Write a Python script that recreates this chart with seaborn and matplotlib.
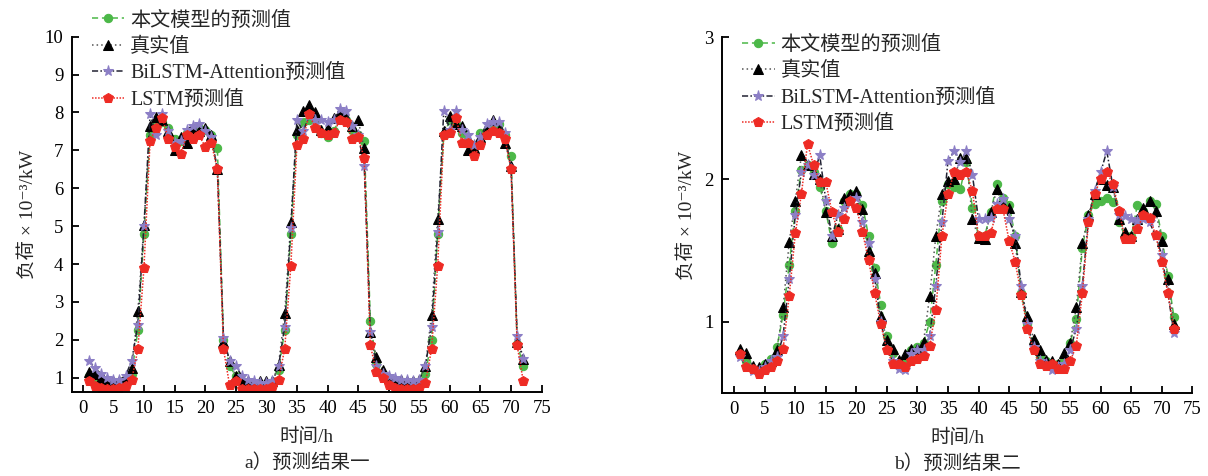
import numpy as np
import pandas as pd
import matplotlib
matplotlib.use("Agg")
import matplotlib.pyplot as plt
import seaborn as sns

hours = list(range(1, 73))

# ---- chart a) 预测结果一 ----
a_model = [1.05, 1.0, 0.92, 0.88, 0.85, 0.88, 0.95, 1.1, 2.25, 4.8, 7.4, 7.7, 7.75, 7.6, 7.3, 7.25, 7.45, 7.5, 7.6, 7.55, 7.4, 7.05, 2.0, 1.3,
           1.05, 0.9, 0.85, 0.82, 0.8, 0.82, 0.85, 1.2, 2.25, 4.8, 7.4, 7.75, 7.8, 7.8, 7.45, 7.35, 7.5, 7.85, 7.8, 7.55, 7.4, 7.25, 2.5, 1.35,
           1.1, 0.9, 0.85, 0.83, 0.8, 0.8, 0.85, 1.1, 2.0, 4.8, 7.4, 7.8, 7.7, 7.45, 7.2, 7.15, 7.45, 7.5, 7.65, 7.7, 7.4, 6.85, 1.9, 1.3]
a_true = [1.15, 1.1, 1.0, 0.95, 0.9, 0.92, 1.0, 1.25, 2.75, 5.03, 7.65, 7.87, 7.8, 7.5, 7.0, 7.35, 7.2, 7.6, 7.5, 7.6, 7.4, 6.5, 1.95, 1.45,
          1.05, 0.95, 0.9, 0.85, 0.9, 0.9, 0.9, 1.34, 2.7, 5.1, 7.55, 8.05, 8.2, 8.0, 7.55, 7.6, 7.85, 8.0, 7.85, 7.65, 7.8, 7.05, 2.2, 1.55,
          1.2, 1.0, 0.95, 0.95, 0.9, 0.9, 0.95, 1.3, 2.66, 5.2, 7.5, 7.9, 7.7, 7.65, 7.0, 7.05, 7.35, 7.55, 7.8, 7.55, 7.2, 6.6, 1.95, 1.5]
a_bilstm = [1.45, 1.25, 1.1, 1.0, 0.95, 0.95, 1.05, 1.45, 2.4, 5.0, 7.95, 7.4, 7.95, 7.5, 7.2, 7.25, 7.55, 7.65, 7.7, 7.5, 7.35, 6.5, 2.05, 1.45,
            1.3, 1.05, 0.95, 0.9, 0.85, 0.85, 0.9, 1.3, 2.35, 4.95, 7.8, 7.5, 7.9, 7.8, 7.8, 7.75, 7.8, 8.1, 8.05, 7.65, 7.4, 6.6, 2.2, 1.3,
            1.1, 1.05, 1.0, 0.95, 0.95, 0.9, 0.95, 1.3, 2.35, 4.85, 8.05, 7.55, 8.05, 7.55, 7.4, 7.15, 7.35, 7.7, 7.75, 7.75, 7.45, 6.5, 2.1, 1.5]
a_lstm = [0.9, 0.78, 0.72, 0.7, 0.7, 0.72, 0.78, 0.94, 1.75, 3.9, 7.25, 7.6, 7.85, 7.3, 7.1, 6.9, 7.4, 7.3, 7.4, 7.1, 7.2, 6.5, 1.75, 0.8,
          0.9, 0.7, 0.7, 0.7, 0.7, 0.7, 0.75, 0.95, 1.76, 3.94, 7.14, 7.3, 7.95, 7.6, 7.45, 7.4, 7.45, 7.8, 7.75, 7.3, 7.35, 6.8, 1.85, 1.15,
          1.0, 0.8, 0.72, 0.7, 0.7, 0.7, 0.72, 0.85, 1.75, 3.95, 7.4, 7.45, 7.85, 7.2, 7.2, 6.85, 7.15, 7.4, 7.5, 7.45, 7.3, 6.5, 1.85, 0.9]

# ---- chart b) 预测结果二 ----
b_model = [0.77, 0.72, 0.67, 0.66, 0.7, 0.74, 0.82, 1.05, 1.4, 1.78, 2.07, 2.1, 2.05, 1.95, 1.78, 1.55, 1.65, 1.85, 1.9, 1.9, 1.82, 1.6, 1.38, 1.12,
           0.9, 0.78, 0.7, 0.72, 0.8, 0.82, 0.85, 1.0, 1.4, 1.85, 1.97, 1.95, 1.93, 2.12, 1.8, 1.6, 1.6, 1.77, 1.97, 1.87, 1.82, 1.6, 1.2, 0.98,
           0.85, 0.75, 0.72, 0.7, 0.7, 0.74, 0.85, 1.02, 1.52, 1.75, 1.83, 1.85, 1.87, 1.84, 1.7, 1.6, 1.6, 1.82, 1.78, 1.85, 1.83, 1.6, 1.32, 1.03]
b_true = [0.81, 0.78, 0.69, 0.68, 0.7, 0.72, 0.8, 1.1, 1.56, 1.85, 2.17, 2.1, 2.04, 2.0, 1.77, 1.6, 1.65, 1.87, 1.9, 1.92, 1.79, 1.5, 1.34, 1.04,
          0.87, 0.81, 0.73, 0.77, 0.81, 0.81, 0.86, 1.18, 1.6, 1.9, 1.99, 2.0, 2.15, 2.15, 1.72, 1.59, 1.58, 1.77, 1.93, 1.82, 1.8, 1.55, 1.21, 1.04,
          0.88, 0.8, 0.73, 0.72, 0.7, 0.78, 0.85, 1.1, 1.55, 1.75, 1.9, 2.0, 1.96, 1.95, 1.72, 1.63, 1.6, 1.72, 1.8, 1.85, 1.78, 1.57, 1.3, 0.98]
b_bilstm = [0.75, 0.68, 0.65, 0.65, 0.68, 0.72, 0.75, 0.9, 1.3, 1.75, 2.05, 2.1, 2.03, 2.17, 1.85, 1.6, 1.75, 1.8, 1.85, 1.87, 1.7, 1.55, 1.3, 1.0,
            0.8, 0.72, 0.67, 0.66, 0.77, 0.8, 0.8, 0.9, 1.25, 1.7, 2.13, 2.2, 2.12, 2.2, 2.03, 1.72, 1.72, 1.73, 1.83, 1.86, 1.72, 1.6, 1.25, 0.98,
            0.82, 0.72, 0.7, 0.66, 0.68, 0.7, 0.8, 0.95, 1.25, 1.72, 1.92, 2.05, 2.2, 1.95, 1.75, 1.74, 1.72, 1.71, 1.72, 1.7, 1.6, 1.47, 1.2, 0.92]
b_lstm = [0.77, 0.68, 0.67, 0.63, 0.66, 0.68, 0.72, 0.81, 1.18, 1.62, 1.9, 2.25, 2.1, 1.98, 1.98, 1.77, 1.63, 1.72, 1.85, 1.8, 1.63, 1.43, 1.2, 0.98,
          0.8, 0.7, 0.7, 0.68, 0.72, 0.74, 0.76, 0.83, 1.08, 1.6, 1.9, 2.05, 2.03, 2.05, 1.92, 1.6, 1.6, 1.62, 1.79, 1.79, 1.57, 1.42, 1.19, 0.95,
          0.8, 0.7, 0.69, 0.7, 0.67, 0.67, 0.72, 0.83, 1.2, 1.7, 1.9, 2.0, 2.05, 1.97, 1.78, 1.58, 1.58, 1.65, 1.75, 1.73, 1.61, 1.42, 1.2, 0.95]

series_names = ["本文模型的预测值", "真实值", "BiLSTM-Attention预测值", "LSTM预测值"]
x_ticks = list(range(0, 80, 5))
a_yticks = list(range(1, 11))
b_yticks = [1, 2, 3]
x_label = "时间/h"
y_label = "负荷 × 10⁻³/kW"
captions = ["a）预测结果一", "b）预测结果二"]

sns.set_theme(style="white")
FONT = ["Liberation Serif", "Noto Sans CJK SC", "DejaVu Sans"]
plt.rcParams["font.family"] = FONT

styles = [
    dict(color="#4cb848", linestyle=(0, (4, 2.5)), marker="o", markersize=6, markeredgecolor="#4cb848", markerfacecolor="#4cb848"),
    dict(color="#555555", linestyle=(0, (1, 2)), marker="^", markersize=6.5, markeredgecolor="black", markerfacecolor="black"),
    dict(color="#222233", linestyle=(0, (4, 1.5, 1, 1.5)), marker="*", markersize=8, markeredgecolor="#8c7fc6", markerfacecolor="#8c7fc6"),
    dict(color="#ee2b24", linestyle=(0, (1, 1)), marker="p", markersize=7, markeredgecolor="#ee2b24", markerfacecolor="#ee2b24"),
]

fig = plt.figure(figsize=(12.08, 4.76), dpi=100)
ax_a = fig.add_axes([0.0594, 0.1771, 0.389, 0.7458])
ax_b = fig.add_axes([0.5974, 0.175, 0.3896, 0.7466])

panels = [
    (ax_a, [a_model, a_true, a_bilstm, a_lstm], a_yticks, (0.63, 10), (-1.8, 75), (0.076, 0.976)),
    (ax_b, [b_model, b_true, b_bilstm, b_lstm], b_yticks, (0.5, 3), (-2.06, 75), (0.6145, 0.925)),
]

for i, (ax, data, yt, ylim, xlim, leg_anchor) in enumerate(panels):
    for name, vals, st in zip(series_names, data, styles):
        df = pd.DataFrame({"h": hours, "v": vals})
        sns.lineplot(data=df, x="h", y="v", ax=ax, label=name, linewidth=1.1, **st)
    ax.set_xlim(*xlim)
    ax.set_ylim(*ylim)
    ax.set_xticks(x_ticks)
    ax.set_yticks(yt)
    ax.tick_params(axis="both", direction="in", length=5, width=1.3, labelsize=13.5, pad=6,
                   bottom=True, left=True, colors="black")
    for lab in ax.get_xticklabels() + ax.get_yticklabels():
        lab.set_family(FONT)
    for s in ["top", "right"]:
        ax.spines[s].set_visible(False)
    for s in ["left", "bottom"]:
        ax.spines[s].set_color("black")
        ax.spines[s].set_linewidth(1.4)
    ax.set_xlabel(x_label, fontsize=14, family=FONT, labelpad=8)
    ax.set_ylabel(y_label, fontsize=14, family=FONT, labelpad=6)
    ax.grid(False)
    ax.set_facecolor("white")
    leg = ax.legend(loc="upper left", bbox_to_anchor=leg_anchor, bbox_transform=fig.transFigure,
                    frameon=False, fontsize=14.5, handlelength=1.6, handletextpad=0.3,
                    labelspacing=0.36, borderaxespad=0, borderpad=0)
    for t in leg.get_texts():
        t.set_family(FONT)
    ax.text(0.5, -0.2, captions[i], transform=ax.transAxes, ha="center", va="center",
            fontsize=14, family=FONT)

fig.savefig("out.png", dpi=100, facecolor="white")
